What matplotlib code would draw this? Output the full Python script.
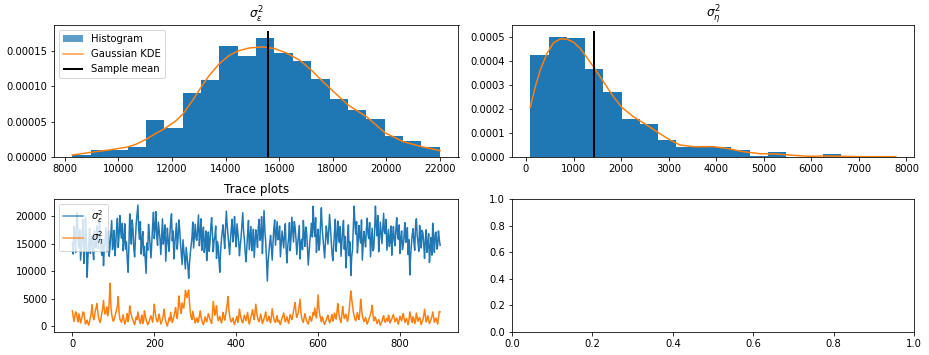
import numpy as np
import matplotlib
matplotlib.use("Agg")
import matplotlib.pyplot as plt

# ---- histogram of sigma_eps^2 (density) ----
eps_bin_min, eps_bin_max, eps_nbins = 8290, 21990, 20
eps_hist = [3.2e-6, 9.7e-6, 9.7e-6, 1.46e-5, 5.19e-5, 4.06e-5, 9.08e-5, 1.087e-4,
            1.573e-4, 1.427e-4, 1.687e-4, 1.476e-4, 1.362e-4, 1.103e-4, 8.27e-5,
            6.65e-5, 5.35e-5, 2.92e-5, 2.27e-5, 1.46e-5]
eps_kde_x = [8287, 8973, 9658, 10344, 10656, 11030, 11404, 11741, 12152, 12427, 12776,
             13113, 13399, 13773, 14148, 14459, 14896, 15394, 15830, 16267, 16766,
             17202, 17638, 18012, 18574, 19260, 19945, 20631, 21317, 22002]
eps_kde_y = [2.8e-6, 6.6e-6, 9.9e-6, 1.41e-5, 1.79e-5, 2.49e-5, 3.34e-5, 4.05e-5,
             5.13e-5, 6.16e-5, 8.04e-5, 1.002e-4, 1.157e-4, 1.322e-4, 1.439e-4,
             1.500e-4, 1.543e-4, 1.557e-4, 1.533e-4, 1.472e-4, 1.369e-4, 1.228e-4,
             1.063e-4, 9.31e-5, 7.34e-5, 5.69e-5, 3.43e-5, 2.16e-5, 1.46e-5, 8.9e-6]
eps_mean = 15590
eps_mean_top = 1.778e-4

# ---- histogram of sigma_eta^2 (density) ----
eta_bin_min, eta_bin_max, eta_nbins = 91, 7775, 20
eta_hist = [4.254e-4, 5.007e-4, 4.978e-4, 3.675e-4, 2.72e-4, 1.59e-4, 1.36e-4,
            6.95e-5, 4.34e-5, 4.34e-5, 4.05e-5, 2.9e-5, 5.8e-6, 2.03e-5, 0.0, 0.0,
            1.16e-5, 0.0, 0.0, 2.9e-6]
eta_kde_x = [91, 196, 301, 441, 581, 721, 861, 1001, 1141, 1281, 1421, 1630, 1840,
             2015, 2260, 2540, 2785, 3030, 3240, 3520, 3940, 4220, 4570, 4920, 5269,
             5619, 5969, 6319, 6669, 7019, 7369, 7775]
eta_kde_y = [2.075e-4, 2.94e-4, 3.635e-4, 4.33e-4, 4.78e-4, 4.944e-4, 4.93e-4,
             4.805e-4, 4.54e-4, 4.164e-4, 3.774e-4, 3.148e-4, 2.521e-4, 2.075e-4,
             1.685e-4, 1.337e-4, 1.017e-4, 7.1e-5, 5.01e-5, 4.32e-5, 4.32e-5,
             3.62e-5, 2.23e-5, 1.39e-5, 1.25e-5, 7.0e-6, 2.8e-6, 4.2e-6, 2.8e-6,
             1.4e-6, 1.4e-6, 1.4e-6]
eta_mean = 1430
eta_mean_top = 5.26e-4

# ---- trace plots (every 2nd iteration) ----
trace_step = 2
trace_eps = [
    15200, 13100, 18100, 16300, 13400, 19200, 20600, 15700, 14200, 17500,
    12000, 14600, 16900, 19400, 11400, 13800, 19800, 16100, 8900, 12600,
    14800, 17700, 13200, 15900, 16400, 13600, 12100, 17300, 15600, 14200,
    18200, 15300, 14000, 19100, 16700, 13900, 12900, 15800, 11000, 14300,
    15400, 17900, 13500, 16200, 17300, 12700, 14600, 16800, 19200, 13900,
    15100, 17400, 12800, 15000, 17900, 19600, 14300, 16500, 20100, 17200,
    16000, 18700, 13700, 15500, 18600, 14000, 15300, 12100, 9800, 14500,
    20400, 17100, 14900, 19300, 17600, 14100, 12600, 16000, 18800, 20300,
    22000, 17500, 15800, 19000, 13100, 15600, 17200, 12800, 14500, 11900,
    9600, 15100, 13800, 18500, 16600, 14400, 12400, 15300, 18300, 20700,
    15900, 17800, 20800, 16400, 14700, 18900, 17400, 15800, 13000, 16300,
    19500, 14900, 16200, 18400, 11800, 14700, 17800, 15400, 13600, 16600,
    18900, 20400, 15500, 17300, 12200, 14800, 16800, 18700, 14000, 15900,
    19300, 17600, 15000, 13200, 11200, 15700, 13900, 12100, 10400, 14300,
    12700, 11000, 8700, 11500, 13300, 14800, 16100, 18900, 14200, 16400,
    18500, 15900, 15600, 17800, 20200, 14600, 16700, 19500, 13800, 16200,
    18000, 13400, 14900, 17300, 11900, 15000, 17100, 13600, 15200, 18000,
    19700, 16800, 13500, 15500, 16300, 18200, 12300, 15400, 14600, 12000,
    9800, 13700, 15800, 17200, 18400, 16000, 14100, 17900, 20900, 18300,
    16600, 14800, 13000, 15600, 17700, 19400, 15300, 17000, 19900, 16300,
    14400, 18600, 17000, 15400, 12800, 14700, 16200, 18500, 20600, 17400,
    15700, 13400, 11700, 14400, 16900, 19200, 13900, 16000, 18100, 13700,
    15000, 17600, 12500, 14900, 17500, 16200, 14300, 18000, 19400, 15600,
    16100, 19900, 13200, 16800, 21000, 17400, 15400, 12300, 8200, 11800,
    13600, 15200, 16500, 14100, 12000, 15300, 17800, 19300, 14700, 16900,
    19000, 15700, 15900, 18200, 12600, 14900, 17300, 15800, 14200, 16700,
    18600, 14000, 11500, 14600, 16000, 18800, 13700, 16100, 19800, 17500,
    15300, 19000, 17900, 15900, 13000, 14800, 16400, 18300, 12200, 15100,
    15800, 13900, 19200, 16600, 14500, 18000, 17100, 14300, 11100, 13500,
    15600, 17000, 18700, 16200, 21800, 18000, 16300, 19700, 13400, 15900,
    17600, 13800, 14800, 18700, 21500, 17700, 16000, 14300, 12400, 15500,
    18200, 16900, 14900, 17300, 20300, 17900, 15500, 13300, 11900, 14600,
    17000, 19400, 13600, 15700, 19100, 16400, 15200, 18100, 12700, 15000,
    17400, 19200, 14000, 16300, 10600, 13100, 16200, 18400, 12800, 15300,
    9200, 12500, 13900, 17600, 21800, 18700, 16700, 19000, 13300, 15500,
    18300, 16100, 15100, 19300, 12000, 14700, 17200, 15900, 14400, 17700,
    19600, 16600, 15900, 18800, 12600, 15100, 17800, 13700, 14100, 17100,
    21800, 18500, 16400, 20100, 13500, 16000, 18900, 16900, 15000, 17800,
    20500, 17200, 16800, 19400, 13800, 15600, 17600, 14500, 15400, 18200,
    12900, 16400, 18100, 15500, 14600, 17600, 19700, 16700, 15800, 18400,
    13200, 15900, 17300, 13900, 14700, 16600, 18800, 15200, 15600, 17900,
    13000, 15700, 9300, 12800, 14900, 16700, 17700, 15300, 13800, 18200,
    19500, 16500, 15200, 13600, 18300, 16000, 14200, 17400, 16900, 14900,
    12300, 15800, 17500, 13400, 14800, 16800, 11600, 14100, 16100, 12900,
    18700, 15700, 13400, 16900, 17100, 14000, 14500, 17300, 15800, 14700]
trace_eta = [
    2800, 1700, 900, 1900, 2600, 2200, 1400, 800, 2300, 1500,
    600, 1200, 1800, 2600, 2500, 1300, 400, 800, 1100, 500,
    200, 900, 1600, 2400, 3900, 2000, 1200, 1800, 2800, 3400,
    4100, 2600, 1500, 1000, 700, 1600, 2400, 3200, 4700, 3000,
    2200, 2700, 3500, 1900, 2600, 4500, 7800, 3600, 2100, 1400,
    900, 1200, 1800, 2400, 3000, 3700, 5400, 2600, 1300, 1000,
    700, 1400, 2100, 1100, 400, 900, 1500, 2300, 800, 1600,
    3700, 2700, 2000, 1500, 1100, 600, 300, 1000, 1700, 1200,
    2600, 1800, 900, 500, 1400, 2000, 500, 1100, 2800, 1900,
    1200, 700, 300, 600, 1000, 1500, 1900, 1300, 700, 2200,
    4000, 2700, 1600, 1000, 800, 1400, 2200, 1200, 400, 800,
    1300, 2000, 3100, 1700, 900, 400, 50, 700, 1500, 1000,
    2500, 1600, 700, 1200, 1800, 2500, 3400, 2200, 1400, 3000,
    5500, 4000, 2900, 2300, 4200, 3600, 3300, 4600, 6500, 5800,
    5200, 6100, 6600, 4300, 2400, 1600, 1200, 2700, 2000, 1300,
    600, 1100, 1500, 700, 900, 1800, 2800, 1700, 1100, 600,
    300, 900, 1700, 1200, 800, 1500, 2300, 1800, 1300, 800,
    500, 2100, 4500, 3200, 2000, 2700, 3700, 1900, 1000, 1400,
    1800, 1100, 600, 1300, 2500, 1700, 1100, 1900, 2900, 4000,
    5400, 3100, 1900, 1200, 800, 1100, 1500, 700, 300, 900,
    1300, 1800, 700, 1600, 3100, 2100, 1400, 900, 600, 1300,
    2000, 1500, 1000, 1800, 2500, 1200, 400, 1000, 1700, 2200,
    3000, 2000, 1200, 2600, 4000, 2500, 1600, 1100, 800, 1500,
    2200, 1300, 500, 900, 1400, 1900, 2600, 1500, 900, 1300,
    1800, 1100, 600, 1700, 3200, 2300, 1300, 900, 700, 1400,
    1900, 800, 1100, 600, 300, 1000, 1500, 1900, 2400, 1400,
    800, 1200, 1700, 1000, 500, 1300, 2100, 1600, 1200, 1900,
    2800, 3600, 4300, 2500, 1600, 2000, 2600, 3800, 4900, 2700,
    1400, 1000, 700, 1600, 2300, 1500, 1000, 700, 400, 1100,
    1800, 1300, 900, 1600, 2500, 2000, 3300, 2200, 1500, 3400,
    5700, 3300, 2100, 1500, 800, 1700, 1300, 700, 300, 800,
    1100, 1600, 2000, 1200, 600, 1000, 1500, 2100, 900, 1400,
    2400, 1800, 1300, 2500, 4100, 2800, 1700, 1100, 700, 2000,
    3600, 2300, 1400, 1800, 2200, 1400, 900, 1800, 3000, 4700,
    6400, 5000, 3800, 2600, 1900, 1300, 1000, 1700, 2500, 1600,
    1200, 2600, 4900, 3300, 2000, 1300, 800, 1200, 1600, 900,
    400, 800, 1300, 1700, 2100, 2800, 3800, 2200, 1000, 1400,
    1700, 1000, 500, 900, 1200, 700, 200, 600, 900, 1500,
    1900, 1100, 700, 1200, 1400, 900, 2000, 1500, 600, 1000,
    1300, 1800, 2100, 1400, 800, 1200, 1500, 900, 400, 1100,
    1800, 1300, 1000, 1700, 2300, 1500, 700, 1100, 1400, 800,
    300, 1200, 2600, 1800, 1100, 700, 1700, 1300, 500, 1000,
    2400, 1600, 900, 1400, 1600, 1000, 300, 800, 1200, 2000,
    3100, 1900, 800, 1300, 1900, 1100, 500, 900, 1300, 1800,
    2600, 1600, 700, 1200, 1500, 900, 400, 1600, 2700, 2600]

W, H = 929, 355
fig = plt.figure(figsize=(W / 72, H / 72), dpi=72)


def box(l, r, t, b):
    return [l / W, 1 - b / H, (r - l) / W, (b - t) / H]


ax1 = fig.add_axes(box(54, 458.5, 25, 157))
ax2 = fig.add_axes(box(512, 914, 25, 157))
ax3 = fig.add_axes(box(54, 458.5, 199, 332))
ax4 = fig.add_axes(box(512, 914, 199, 332))

# top-left
eps_edges = np.linspace(eps_bin_min, eps_bin_max, eps_nbins + 1)
_, _, p1 = ax1.hist(eps_edges[:-1], bins=eps_edges, weights=eps_hist, color="C0",
                    label="Histogram")
l1, = ax1.plot(eps_kde_x, eps_kde_y, color="C1", label="Gaussian KDE")
v1 = ax1.vlines(eps_mean, 0, eps_mean_top, color="k", lw=2, label="Sample mean")
ax1.set_title(r"$\sigma^2_\varepsilon$")
leg1 = ax1.legend(handles=[p1[0], l1, v1], loc="upper left")
leg1.legend_handles[0].set_alpha(0.72)
leg1.legend_handles[1].set_alpha(0.8)

# top-right
eta_edges = np.linspace(eta_bin_min, eta_bin_max, eta_nbins + 1)
ax2.hist(eta_edges[:-1], bins=eta_edges, weights=eta_hist, color="C0")
ax2.plot(eta_kde_x, eta_kde_y, color="C1")
ax2.vlines(eta_mean, 0, eta_mean_top, color="k", lw=2)
ax2.set_title(r"$\sigma^2_\eta$")

# bottom-left trace
it = np.arange(len(trace_eps)) * trace_step
ax3.plot(it, trace_eps, color="C0", label=r"$\sigma^2_\varepsilon$")
ax3.plot(it, trace_eta, color="C1", label=r"$\sigma^2_\eta$")
ax3.set_title("Trace plots")
leg3 = ax3.legend(loc="upper left")
for h in leg3.legend_handles:
    h.set_alpha(0.8)

fig.savefig("out.png", dpi=72)
